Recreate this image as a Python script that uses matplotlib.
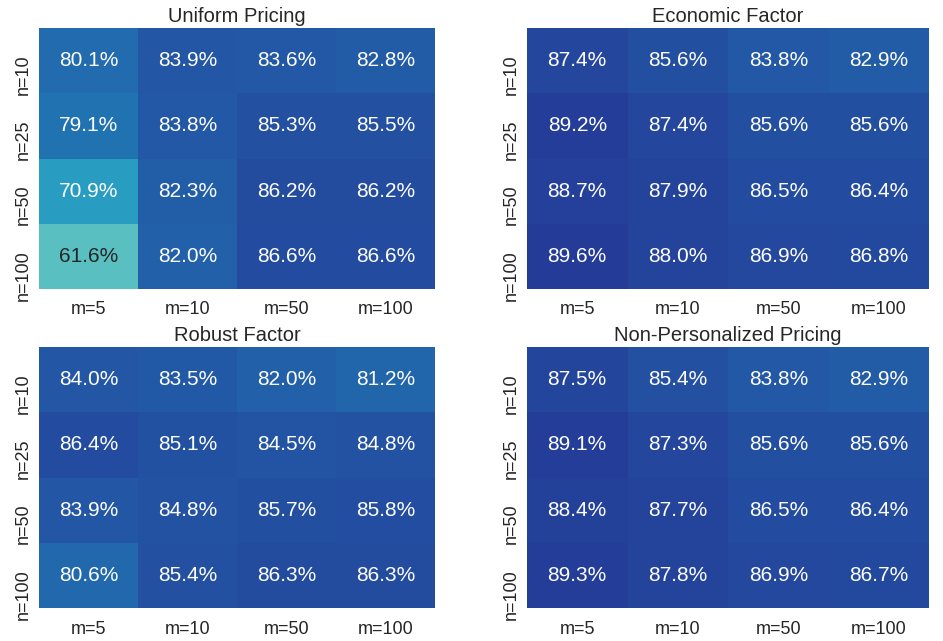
import numpy as np
import matplotlib
matplotlib.use("Agg")
import matplotlib.pyplot as plt
import seaborn as sns

sns.set_theme(style="white")
plt.rcParams['font.family'] = ['Liberation Sans', 'DejaVu Sans']

# column / row labels
m_labels = ["m=5", "m=10", "m=50", "m=100"]
n_labels = ["n=10", "n=25", "n=50", "n=100"]

# accuracy values (percent), rows = n, cols = m
uniform = [[80.1, 83.9, 83.6, 82.8],
           [79.1, 83.8, 85.3, 85.5],
           [70.9, 82.3, 86.2, 86.2],
           [61.6, 82.0, 86.6, 86.6]]
economic = [[87.4, 85.6, 83.8, 82.9],
            [89.2, 87.4, 85.6, 85.6],
            [88.7, 87.9, 86.5, 86.4],
            [89.6, 88.0, 86.9, 86.8]]
robust = [[84.0, 83.5, 82.0, 81.2],
          [86.4, 85.1, 84.5, 84.8],
          [83.9, 84.8, 85.7, 85.8],
          [80.6, 85.4, 86.3, 86.3]]
nonpers = [[87.5, 85.4, 83.8, 82.9],
           [89.1, 87.3, 85.6, 85.6],
           [88.4, 87.7, 86.5, 86.4],
           [89.3, 87.8, 86.9, 86.7]]

titles = ["Uniform Pricing", "Economic Factor", "Robust Factor", "Non-Personalized Pricing"]
tables = [uniform, economic, robust, nonpers]

fig = plt.figure(figsize=(9.43, 6.41), dpi=100)
W, H = 943, 641
# axes boxes in pixels: left, top, right, bottom
boxes = [(39, 28, 435, 289), (527, 28, 929, 289),
         (39, 347, 435, 608), (527, 347, 929, 608)]

for box, title, data in zip(boxes, titles, tables):
    l, t, r, b = box
    ax = fig.add_axes([l / W, 1 - b / H, (r - l) / W, (b - t) / H])
    vals = np.array(data)
    annot = np.array([["%.1f%%" % v for v in row] for row in vals])
    sns.heatmap(vals, ax=ax, cmap="YlGnBu", vmin=30, vmax=100, cbar=False,
                annot=annot, fmt="", annot_kws={"size": 15},
                xticklabels=m_labels, yticklabels=n_labels)
    ax.set_title(title, fontsize=14.5, pad=4)
    ax.tick_params(axis="x", labelsize=13, length=0, pad=9)
    ax.tick_params(axis="y", labelsize=13, length=0, pad=5)
    ax.set_yticklabels(n_labels, rotation=90, va="center_baseline")
    ax.set_xticklabels(m_labels, rotation=0)

fig.savefig("out.png", dpi=100)
